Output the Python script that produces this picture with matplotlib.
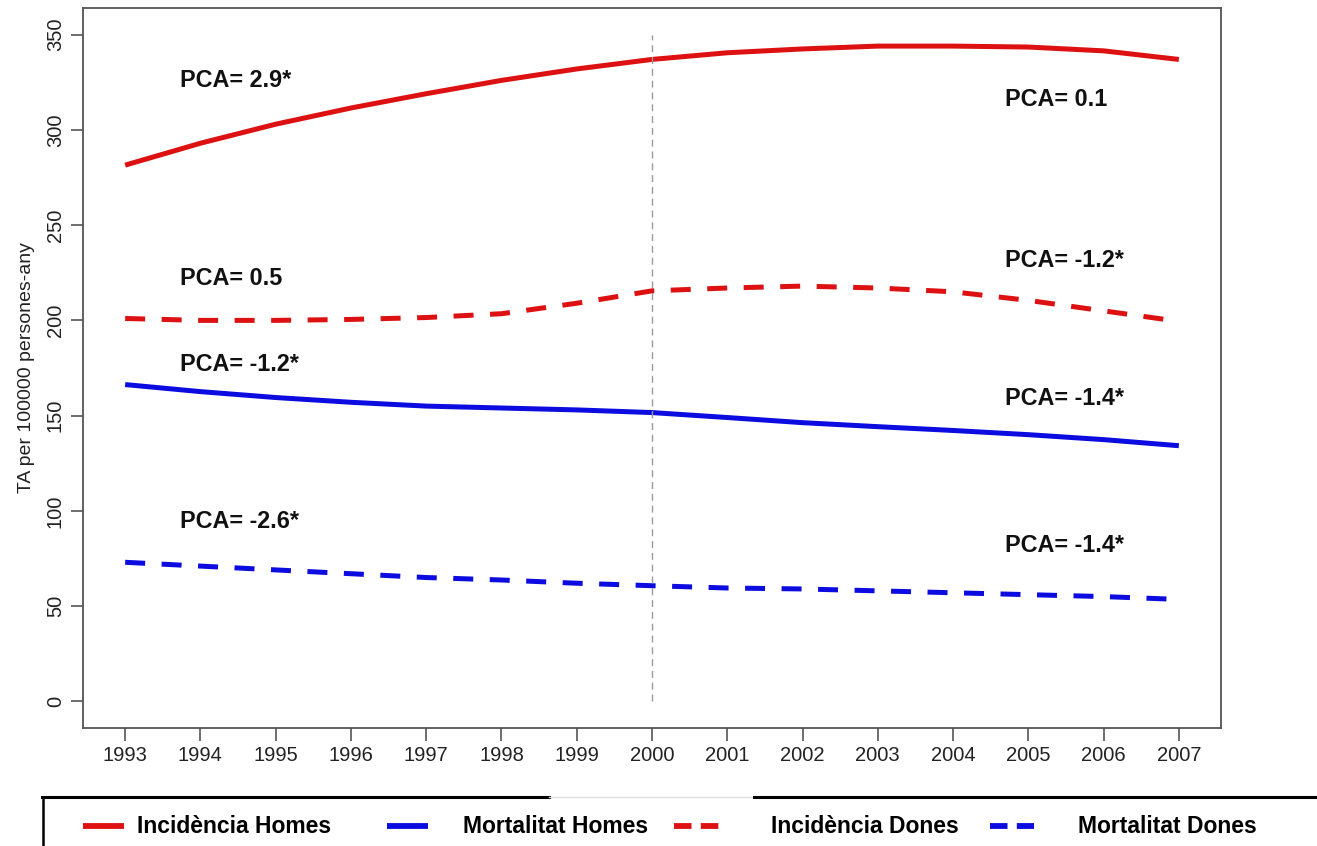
import numpy as np
import matplotlib
matplotlib.use("Agg")
import matplotlib.pyplot as plt
from matplotlib.lines import Line2D

plt.rcParams['font.family'] = ['Liberation Sans', 'DejaVu Sans']

years = np.arange(1993, 2008)

# TA per 100000 persones-any
inc_homes = [281.5, 293, 303, 311.5, 319, 326, 332, 337, 340.5, 342.5, 344, 344, 343.5, 341.5, 337]
inc_dones = [201, 200, 200, 200.5, 201.5, 203.5, 209, 215.5, 217, 218, 217, 215, 210.5, 205, 199.5]
mort_homes = [166.3, 162.6, 159.5, 157, 155, 154, 153, 151.6, 149, 146.3, 144.2, 142.2, 140, 137.4, 134.2]
mort_dones = [73, 71, 69, 67, 65, 63.7, 62, 60.7, 59.5, 59, 58, 57, 56, 55, 53.5]

# joinpoint annotations (x, y, text)
pca_x = [1993.73, 2004.69, 1993.73, 2004.69, 1993.73, 2004.69, 1993.73, 2004.69]
pca_y = [326, 316, 222, 231.5, 177, 159, 94.5, 82]
pca_txt = ["PCA= 2.9*", "PCA= 0.1", "PCA= 0.5", "PCA= -1.2*",
           "PCA= -1.2*", "PCA= -1.4*", "PCA= -2.6*", "PCA= -1.4*"]

legend_labels = ["Incidència Homes", "Mortalitat Homes", "Incidència Dones", "Mortalitat Dones"]

RED = "#dd1111"
BLUE = "#0c0ce0"
LW = 3.6
DASH = (4.0, 3.3)

fig = plt.figure(figsize=(13.17, 8.46), dpi=100)
ax = fig.add_axes([83 / 1317, 1 - 728 / 846, (1221 - 83) / 1317, (728 - 8) / 846])

ax.plot(years, inc_homes, color=RED, lw=LW, solid_capstyle="butt", solid_joinstyle="round")
ax.plot(years, mort_homes, color=BLUE, lw=LW, solid_capstyle="butt", solid_joinstyle="round")
ax.plot(years, inc_dones, color=RED, lw=LW, dashes=DASH, dash_joinstyle="round")
ax.plot(years, mort_dones, color=BLUE, lw=LW, dashes=DASH, dash_joinstyle="round")

ax.vlines(2000, 0, 350, color="#9a9aa6", lw=1.0, linestyles=(0, (5, 3.5)))

for x, y, t in zip(pca_x, pca_y, pca_txt):
    ax.text(x, y, t, fontsize=16.8, fontweight="bold", ha="left", va="center", color="#111111")

ax.set_xlim(1992.44, 2007.56)
ax.set_ylim(-14, 364)
ax.set_xticks(years)
ax.set_xticklabels([str(y) for y in years])
ax.set_yticks(np.arange(0, 351, 50))
ax.set_yticklabels([str(v) for v in range(0, 351, 50)], rotation=90, va="center")
ax.tick_params(axis="both", direction="out", length=9, width=1.2, color="#555555",
               labelsize=14.5, labelcolor="#222222", pad=4)
for s in ax.spines.values():
    s.set_color("#555555")
    s.set_linewidth(1.3)
ax.set_ylabel("TA per 100000 persones-any", fontsize=14, color="#222222", labelpad=8)

# legend panel at the bottom (pixel layout)
W, H = 1317, 846
def fx(px):
    return px / W
def fy(py):
    return 1 - py / H

fig.add_artist(Line2D([fx(42), fx(549)], [fy(797), fy(797)], color="black", lw=2.2, transform=fig.transFigure))
fig.add_artist(Line2D([fx(549), fx(754)], [fy(797), fy(797)], color="#dddddd", lw=1.0, transform=fig.transFigure))
fig.add_artist(Line2D([fx(754), fx(1317)], [fy(797), fy(797)], color="black", lw=2.2, transform=fig.transFigure))
fig.add_artist(Line2D([fx(43), fx(43)], [fy(797), fy(846)], color="black", lw=1.8, transform=fig.transFigure))

key_x0 = [83, 387, 674, 990]
key_x1 = [124, 428, 719, 1034]
text_x = [137, 463, 771, 1078]
key_col = [RED, BLUE, RED, BLUE]
key_dash = [None, None, (3.0, 1.6), (3.0, 1.6)]
ly = fy(826)
for x0, x1, tx, c, d, lab in zip(key_x0, key_x1, text_x, key_col, key_dash, legend_labels):
    ln = Line2D([fx(x0), fx(x1)], [ly, ly], color=c, lw=4.2, transform=fig.transFigure,
                solid_capstyle="butt")
    if d is not None:
        ln.set_dashes(d)
    fig.add_artist(ln)
    fig.text(fx(tx), ly, lab, fontsize=16.5, fontweight="bold", ha="left", va="center", color="black")

fig.savefig("out.png", dpi=100)
